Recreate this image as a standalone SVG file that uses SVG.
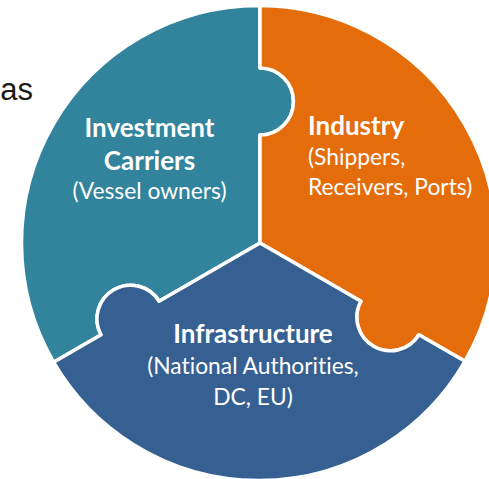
<svg xmlns="http://www.w3.org/2000/svg" width="489" height="479" viewBox="0 0 489 479">
  <style>
    .piece { stroke: #ffffff; stroke-width: 3.5; stroke-linejoin: round; }
    .t { font-family: Lato, "Open Sans", "Liberation Sans", sans-serif; fill: #ffffff; font-variant-ligatures: none; font-feature-settings: "liga" 0, "clig" 0; }
    .b { font-weight: bold; font-size: 26px; }
    .r { font-size: 22.8px; }
    .c { text-anchor: middle; }
  </style>
  <rect x="0" y="0" width="489" height="479" fill="#ffffff"/>
  <text x="33" y="99.5" text-anchor="end" font-family="'Liberation Sans', Arial, sans-serif" font-size="31" fill="#1a1a1a">as</text>

  <g id="investment-carriers">
    <path class="piece" fill="#31849B" d="M260,243 L260,135 A33.5,33.5 0 0 0 260,68 L260,5.5 A237.5,237.5 0 0 0 53.57,362.18 L101.1,334.75 A33.5,33.5 0 0 1 159.1,301.25 Z"/>
    <text class="t b c" x="149.5" y="137">Investment</text>
    <text class="t b c" x="149.5" y="170">Carriers</text>
    <text class="t r c" x="149.5" y="199">(Vessel owners)</text>
  </g>

  <g id="industry">
    <path class="piece" fill="#E46C0A" d="M260,243 L260,135 A33.5,33.5 0 0 0 260,68 L260,5.5 A237.5,237.5 0 0 1 464.93,361.32 L418.9,334.75 A33.5,33.5 0 0 1 360.9,301.25 Z"/>
    <text class="t b" x="308" y="135">Industry</text>
    <text class="t r" x="308" y="165">(Shippers,</text>
    <text class="t r" x="308" y="194.5">Receivers, Ports)</text>
  </g>

  <g id="infrastructure">
    <path class="piece" fill="#376092" d="M260,243 L159.1,301.25 A33.5,33.5 0 0 0 101.1,334.75 L53.57,362.18 A237.5,237.5 0 0 0 464.93,361.32 L418.9,334.75 A33.5,33.5 0 0 1 360.9,301.25 Z"/>
    <text class="t b c" x="253" y="343">Infrastructure</text>
    <text class="t r c" x="253" y="374">(National Authorities,</text>
    <text class="t r c" x="253" y="405">DC, EU)</text>
  </g>

  <g id="connectors"/>
</svg>
